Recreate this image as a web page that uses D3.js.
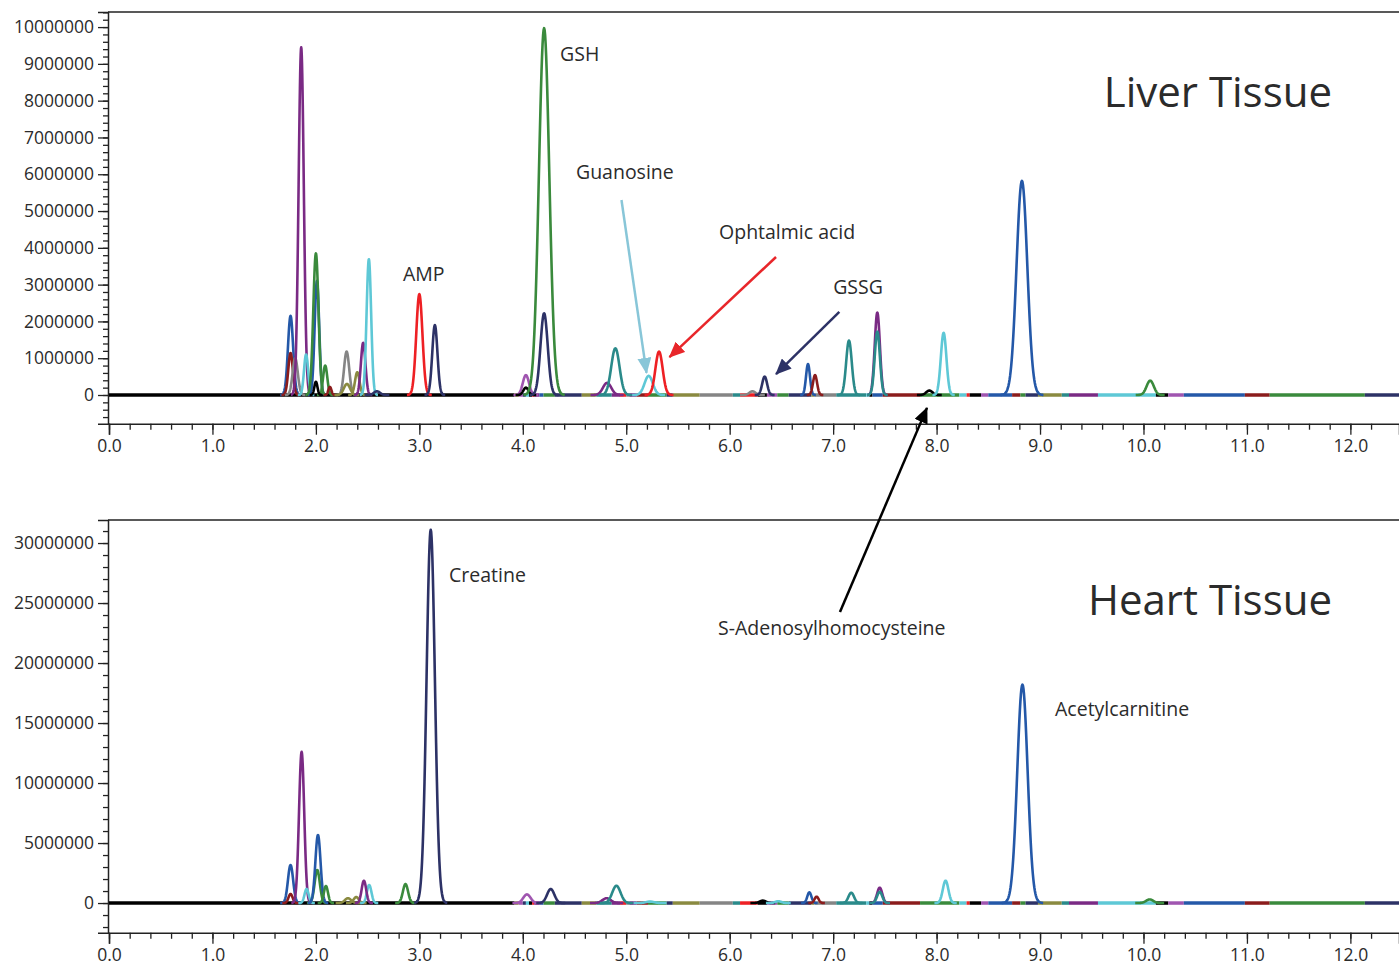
<!DOCTYPE html>
<html>
<head>
<meta charset="utf-8">
<script src="https://cdn.jsdelivr.net/npm/d3@7"></script>
<style>
  body { margin: 0; background: #fff; }
  text { font-family: "Open Sans", "Noto Sans", sans-serif; fill: #2b2b2b; }
</style>
</head>
<body>
<div id="chart"></div>
<script>
var width = 1399, height = 964;

// trace colours
var colors = {
  blue: "#2458a8", darkred: "#8b1c1c", gray: "#858585", purple: "#7a2a84",
  cyan: "#5ec8d6", green: "#3a8a3c", black: "#000000", olive: "#8a8a40",
  red: "#ee2024", navy: "#2d3266", pink: "#a055b0", teal: "#2a8a8a"
};

// peaks: [retention time (min), height (counts), sigma (min), colour]
var liverPeaks = [
  [1.755, 2150000, 0.025, "blue"], [1.755, 1140000, 0.022, "darkred"],
  [1.800, 1000000, 0.025, "gray"], [1.858, 9450000, 0.025, "purple"],
  [1.905, 1100000, 0.020, "cyan"], [2.010, 3100000, 0.022, "blue"],
  [2.000, 3850000, 0.025, "green"], [2.090, 800000, 0.020, "green"],
  [2.000, 360000, 0.015, "black"], [2.135, 220000, 0.015, "darkred"],
  [2.297, 1180000, 0.025, "gray"], [2.300, 300000, 0.030, "olive"],
  [2.400, 620000, 0.022, "olive"], [2.457, 1420000, 0.022, "purple"],
  [2.512, 3690000, 0.022, "cyan"], [2.590, 100000, 0.030, "navy"],
  [3.000, 2740000, 0.030, "red"], [3.150, 1900000, 0.025, "navy"],
  [4.030, 540000, 0.030, "pink"], [4.030, 200000, 0.025, "black"],
  [4.206, 2220000, 0.035, "navy"], [4.206, 9970000, 0.050, "green"],
  [4.815, 330000, 0.040, "purple"], [4.895, 1270000, 0.040, "teal"],
  [5.217, 520000, 0.040, "cyan"], [5.317, 1180000, 0.035, "red"],
  [6.220, 100000, 0.030, "gray"], [6.338, 500000, 0.024, "navy"],
  [6.757, 840000, 0.019, "blue"], [6.825, 540000, 0.020, "darkred"],
  [7.153, 1480000, 0.027, "teal"], [7.427, 2240000, 0.025, "purple"],
  [7.427, 1720000, 0.025, "teal"], [7.930, 120000, 0.030, "black"],
  [8.068, 1690000, 0.027, "cyan"], [8.825, 5820000, 0.052, "blue"],
  [10.065, 390000, 0.035, "green"]
];

var heartPeaks = [
  [1.755, 3170000, 0.025, "blue"], [1.755, 750000, 0.020, "darkred"],
  [1.862, 12600000, 0.025, "purple"], [1.910, 1170000, 0.020, "cyan"],
  [2.013, 2750000, 0.025, "green"], [2.020, 5670000, 0.025, "blue"],
  [2.097, 1420000, 0.020, "green"], [2.310, 400000, 0.030, "olive"],
  [2.390, 500000, 0.025, "olive"], [2.515, 1500000, 0.022, "cyan"],
  [2.464, 1860000, 0.022, "purple"], [2.866, 1580000, 0.025, "green"],
  [3.110, 31100000, 0.040, "navy"], [4.040, 720000, 0.035, "pink"],
  [4.270, 1170000, 0.035, "navy"], [4.810, 400000, 0.040, "purple"],
  [4.905, 1440000, 0.040, "teal"], [5.230, 120000, 0.040, "cyan"],
  [6.320, 200000, 0.030, "black"], [6.470, 150000, 0.030, "cyan"],
  [6.770, 890000, 0.020, "blue"], [6.840, 530000, 0.020, "darkred"],
  [7.175, 860000, 0.027, "teal"], [7.450, 1280000, 0.025, "purple"],
  [7.450, 930000, 0.025, "teal"], [8.087, 1860000, 0.027, "cyan"],
  [8.830, 18200000, 0.050, "blue"], [10.060, 300000, 0.035, "green"]
];

// which trace sits on top of the baseline: [from, to, colour]
var baseSegments = [
  [0, 3.92, "black"], [3.92, 3.96, "olive"], [3.96, 4.0, "pink"], [4.0, 4.03, "navy"],
  [4.03, 4.06, "cyan"], [4.06, 4.09, "black"], [4.09, 4.11, "red"], [4.11, 4.16, "purple"],
  [4.16, 4.2, "blue"], [4.2, 4.31, "green"], [4.31, 4.57, "navy"], [4.57, 4.71, "olive"],
  [4.71, 4.86, "teal"], [4.86, 4.94, "purple"], [4.94, 5.0, "red"], [5.0, 5.03, "gray"],
  [5.03, 5.1, "purple"], [5.1, 5.21, "darkred"], [5.21, 5.39, "green"], [5.39, 5.45, "navy"],
  [5.45, 5.71, "olive"], [5.71, 6.03, "gray"], [6.03, 6.1, "teal"], [6.1, 6.27, "red"],
  [6.27, 6.36, "black"], [6.36, 6.46, "pink"], [6.46, 6.57, "green"], [6.57, 6.79, "navy"],
  [6.79, 6.82, "olive"], [6.82, 7.03, "gray"], [7.03, 7.32, "teal"], [7.32, 7.35, "cyan"],
  [7.35, 7.38, "black"], [7.38, 7.48, "blue"], [7.48, 7.84, "darkred"], [7.84, 8.22, "green"],
  [8.22, 8.29, "cyan"], [8.29, 8.32, "red"], [8.32, 8.43, "black"], [8.43, 8.5, "pink"],
  [8.5, 8.73, "blue"], [8.73, 8.81, "darkred"], [8.81, 8.86, "green"], [8.86, 8.98, "navy"],
  [8.98, 9.21, "olive"], [9.21, 9.28, "teal"], [9.28, 9.56, "purple"], [9.56, 10.12, "cyan"],
  [10.12, 10.24, "black"], [10.24, 10.39, "pink"], [10.39, 10.98, "blue"], [10.98, 11.22, "darkred"],
  [11.22, 12.14, "green"], [12.14, 12.47, "navy"]
];

// tick values
var xTicks = [0, 1, 2, 3, 4, 5, 6, 7, 8, 9, 10, 11, 12];
var liverYTicks = [0, 1000000, 2000000, 3000000, 4000000, 5000000, 6000000, 7000000, 8000000, 9000000, 10000000];
var heartYTicks = [0, 5000000, 10000000, 15000000, 20000000, 25000000, 30000000];

// compound labels: [text, time, counts]
var liverLabels = [["AMP", 2.842, 3100000], ["GSH", 4.36, 9080000], ["Guanosine", 4.514, 5870000],
  ["Ophtalmic acid", 5.897, 4240000], ["GSSG", 7.0, 2740000]];
var heartLabels = [["Creatine", 3.287, 26750000], ["S-Adenosylhomocysteine", 5.887, 22330000],
  ["Acetylcarnitine", 9.145, 15580000]];

// arrows: [t0, v0, t1, v1, colour]
var liverArrows = [[4.954, 5300000, 5.196, 600000, "#88c6d8"],
  [6.448, 3750000, 5.418, 1030000, "#e8262a"],
  [7.06, 2260000, 6.448, 570000, "#2d3266"]];

var svg = d3.select("#chart").append("svg")
  .attr("width", width)
  .attr("height", height);

// arrowhead markers, one per colour
var headColors = ["#88c6d8", "#e8262a", "#2d3266", "#000000"];
var defs = svg.append("defs");
headColors.forEach(function(c, i){
  defs.append("marker")
    .attr("id", "head" + i)
    .attr("viewBox", "0 0 16 14")
    .attr("markerWidth", 16)
    .attr("markerHeight", 14)
    .attr("markerUnits", "userSpaceOnUse")
    .attr("refX", 15)
    .attr("refY", 7)
    .attr("orient", "auto")
    .append("path")
    .attr("d", "M0,0 L16,7 L0,14 Z")
    .attr("fill", c);
});
function headId(c){
  return "url(#head" + headColors.indexOf(c) + ")";
}

var xScale = d3.scaleLinear().domain([0, 12.47]).range([109, 1399]);

/**
 * draws one chromatogram panel
 */
function drawPanel(yScale, yTicks, yMinor, peaks, top, bottom){
  var g = svg.append("g");

  // frame: top border and axes
  g.append("line")
    .attr("x1", 108).attr("x2", width)
    .attr("y1", top).attr("y2", top)
    .attr("stroke", "#222").attr("stroke-width", 1.5);

  g.append("g")
    .attr("transform", "translate(108,0)")
    .call(d3.axisLeft(yScale).tickValues(yTicks).tickSize(10).tickPadding(4)
      .tickFormat(d3.format("d")));
  g.append("g")
    .attr("transform", "translate(108,0)")
    .call(d3.axisLeft(yScale).tickValues(yMinor).tickSize(5).tickFormat(""))
    .select(".domain").remove();

  g.append("g")
    .attr("transform", "translate(0," + bottom + ")")
    .call(d3.axisBottom(xScale).tickValues(xTicks).tickSize(11).tickPadding(5)
      .tickFormat(d3.format(".1f")));
  g.append("g")
    .attr("transform", "translate(0," + bottom + ")")
    .call(d3.axisBottom(xScale).tickValues(d3.range(0, 62).map(function(i){ return i * 0.2; }))
      .tickSize(6).tickFormat(""))
    .select(".domain").remove();

  g.selectAll(".domain").attr("stroke", "#222").attr("stroke-width", 1.5);
  g.selectAll(".tick line").attr("stroke", "#222").attr("stroke-width", 1.3);
  g.selectAll(".tick text")
    .style("font-size", "17.5px")
    .style("font-family", "'Open Sans', sans-serif")
    .attr("fill", "#2b2b2b");

  // baseline segments
  baseSegments.forEach(function(s){
    g.append("line")
      .attr("x1", xScale(s[0])).attr("x2", xScale(s[1]))
      .attr("y1", yScale(0)).attr("y2", yScale(0))
      .attr("stroke", colors[s[2]])
      .attr("stroke-width", 3.5);
  });

  // peaks
  var line = d3.line()
    .x(function(d){ return xScale(d[0]); })
    .y(function(d){ return yScale(d[1]); });
  peaks.forEach(function(p){
    var pts = [];
    for (var i = -40; i <= 40; i++) {
      var t = p[0] + i * p[2] / 10;
      pts.push([t, p[1] * Math.exp(-0.5 * Math.pow((t - p[0]) / p[2], 2))]);
    }
    g.append("path")
      .attr("d", line(pts))
      .attr("fill", "none")
      .attr("stroke", colors[p[3]])
      .attr("stroke-width", 2.6)
      .attr("stroke-linejoin", "round");
  });
  return g;
}

var liverY = d3.scaleLinear().domain([-780000, 10410000]).range([423.7, 12]);
var heartY = d3.scaleLinear().domain([-2480000, 31920000]).range([932.8, 520]);

drawPanel(liverY, liverYTicks,
  d3.range(-3, 53).map(function(i){ return i * 200000; }), liverPeaks, 12, 423.7);
drawPanel(heartY, heartYTicks,
  d3.range(-2, 32).map(function(i){ return i * 1000000; }), heartPeaks, 520, 932.8);

// compound labels
liverLabels.forEach(function(l){
  svg.append("text").text(l[0])
    .attr("x", xScale(l[1])).attr("y", liverY(l[2]))
    .style("font-size", "19.5px");
});
heartLabels.forEach(function(l){
  svg.append("text").text(l[0])
    .attr("x", xScale(l[1])).attr("y", heartY(l[2]))
    .style("font-size", "19.5px");
});

// panel titles
svg.append("text").text("Liver Tissue")
  .attr("x", 1332).attr("y", liverY(7830000))
  .attr("text-anchor", "end")
  .style("font-size", "42px");
svg.append("text").text("Heart Tissue")
  .attr("x", 1332).attr("y", heartY(24000000))
  .attr("text-anchor", "end")
  .style("font-size", "42px");

// arrows
liverArrows.forEach(function(a){
  svg.append("line")
    .attr("x1", xScale(a[0])).attr("y1", liverY(a[1]))
    .attr("x2", xScale(a[2])).attr("y2", liverY(a[3]))
    .attr("stroke", a[4]).attr("stroke-width", 2.5)
    .attr("marker-end", headId(a[4]));
});
// S-Adenosylhomocysteine arrow reaches from the heart panel up into the liver panel
svg.append("line")
  .attr("x1", xScale(7.066)).attr("y1", heartY(24250000))
  .attr("x2", xScale(7.907)).attr("y2", liverY(-350000))
  .attr("stroke", "#000").attr("stroke-width", 2.5)
  .attr("marker-end", headId("#000000"));
</script>
</body>
</html>
